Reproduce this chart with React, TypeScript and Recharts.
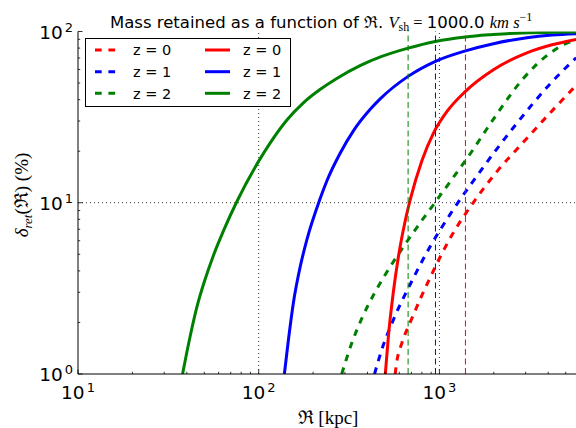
import React from 'react'
import { LineChart, Line, XAxis, YAxis, ReferenceLine } from 'recharts'

// R [kpc] vs retained mass delta_ret [%]
const DASHED_Z0: [number, number][] = [
  [569, 1.0], [581, 1.18], [619, 1.51], [689, 2.0], [887, 3.64], [1122, 5.96], [1578, 10.4],
  [2080, 15.2], [2917, 22.6], [4276, 35.1], [5715, 48.5],
]
const DASHED_Z1: [number, number][] = [
  [437.5, 1.0], [480, 1.39], [556, 2.07], [703, 3.48], [887, 5.53], [1146, 8.55], [1663, 15.0],
  [2570, 27.5], [4188, 50.7], [5715, 70.3],
]
const DASHED_Z2: [number, number][] = [
  [288, 1.0], [327, 1.51], [372, 2.11], [436, 2.95], [525, 4.11], [631, 5.52], [794, 7.8],
  [944, 10.0], [1172, 13.7], [1419, 18.1], [2000, 31.0], [2904, 53.0], [4102, 74.8],
  [4898, 84.0], [5715, 89.3],
]
const SOLID_Z0: [number, number][] = [
  [502, 1.0], [522, 1.66], [556, 3.01], [593, 4.84], [646, 7.8], [689, 10.4], [800, 17.6],
  [927, 25.5], [1099, 34.0], [1393, 44.7], [1991, 59.8], [3048, 75.0], [4198, 83.6], [5715, 89.9],
]
const SOLID_Z1: [number, number][] = [
  [138.7, 1.0], [146, 1.58], [155.6, 2.61], [169.4, 4.2], [184.5, 6.05], [218.3, 10.5],
  [238.2, 13.4], [281.8, 19.4], [334.2, 26.3], [413, 35.0], [470, 40.4], [671, 54.7],
  [951, 67.0], [1393, 77.1], [1991, 84.9], [3048, 92.0], [4198, 95.3], [5715, 97.0],
]
const SOLID_Z2: [number, number][] = [
  [37.9, 1.0], [41.7, 1.65], [45.4, 2.44], [50.5, 3.57], [56.1, 4.91], [63.7, 6.82],
  [75.5, 10.1], [100, 17.5], [115.6, 22.3], [142.9, 30.3], [176.6, 38.3], [218.3, 45.8],
  [270.4, 53.2], [363.9, 63.2], [479.7, 71.5], [671.4, 80.0], [950.6, 87.5], [1393, 92.9],
  [1901, 95.7], [2460, 97.5], [5715, 99.3],
]

// vertical dashed markers (z = 2, 1, 0)
const MARK_R = [671, 951, 1393]
const GRID_X = [100, 1000]
const GRID_Y = [10]

const X_TICKS = [10, 20, 30, 40, 50, 60, 70, 80, 90, 100, 200, 300, 400, 500, 600, 700, 800, 900,
  1000, 2000, 3000, 4000, 5000]
const Y_TICKS = [1, 2, 3, 4, 5, 6, 7, 8, 9, 10, 20, 30, 40, 50, 60, 70, 80, 90, 100]

const RED = '#ff0000'
const BLUE = '#0000ff'
const GREEN = '#008000'
const Z_COLORS = [RED, BLUE, GREEN]
const SANS = "'DejaVu Sans', sans-serif"
const SERIF = "'Liberation Serif', 'DejaVu Serif', serif"
const DASH = '6.7 6.7'

const toPts = (arr: [number, number][]) => arr.map(([x, y]) => ({ x, y }))

const SERIES = [
  { key: 'd0', data: DASHED_Z0, color: RED, dashed: true },
  { key: 'd1', data: DASHED_Z1, color: BLUE, dashed: true },
  { key: 'd2', data: DASHED_Z2, color: GREEN, dashed: true },
  { key: 's0', data: SOLID_Z0, color: RED, dashed: false },
  { key: 's1', data: SOLID_Z1, color: BLUE, dashed: false },
  { key: 's2', data: SOLID_Z2, color: GREEN, dashed: false },
]

const isMajor = (v: number) => Math.abs(Math.log10(v) - Math.round(Math.log10(v))) < 1e-6

const PowLabel = ({ v }: { v: number }) => (
  <>
    10<tspan dx={2} dy={-7} fontSize={13}>{Math.round(Math.log10(v))}</tspan>
  </>
)

const BottomTick = ({ x, y, payload }: any) => {
  const major = isMajor(payload.value)
  return (
    <g>
      <line x1={x} x2={x} y1={y} y2={y - (major ? 4.5 : 2.2)} stroke="#000" strokeWidth={0.8} />
      {major && (
        <text x={x} y={y + 24.6} textAnchor="middle" fontFamily={SANS} fontSize={18.5} fill="#000">
          <PowLabel v={payload.value} />
        </text>
      )}
    </g>
  )
}

const TopTick = ({ x, y, payload }: any) => {
  const major = isMajor(payload.value)
  return <line x1={x} x2={x} y1={y} y2={y + (major ? 4.5 : 2.2)} stroke="#000" strokeWidth={0.8} />
}

const LeftTick = ({ x, y, payload }: any) => {
  const major = isMajor(payload.value)
  return (
    <g>
      <line x1={x} x2={x + (major ? 4.5 : 2.2)} y1={y} y2={y} stroke="#000" strokeWidth={0.8} />
      {major && (
        <text x={x - 5} y={y + 7} textAnchor="end" fontFamily={SANS} fontSize={18.5} fill="#000">
          <PowLabel v={payload.value} />
        </text>
      )}
    </g>
  )
}

const LEGEND_ROWS = [50, 71.7, 93.3]

function Overlay() {
  return (
    <svg width={576} height={428} style={{ position: 'absolute', left: 0, top: 0, pointerEvents: 'none' }}>
      <text x={110} y={27.5} fontFamily={SANS} fontSize={16.5} fill="#000">
        {'Mass retained as a function of '}
        <tspan fontFamily={SERIF}>ℜ</tspan>
        {'. '}
        <tspan fontFamily={SERIF} fontStyle="italic">V</tspan>
        <tspan fontFamily={SERIF} fontSize={12} dy={3}>sh</tspan>
        <tspan fontFamily={SERIF} dy={-3}>{' = '}</tspan>
        {' 1000.0 '}
        <tspan fontFamily={SERIF} fontStyle="italic">{'km s'}</tspan>
        <tspan fontFamily={SERIF} fontSize={12} dy={-7}>−1</tspan>
      </text>

      <text transform="translate(28,195) rotate(-90)" textAnchor="middle" fontFamily={SERIF} fontSize={19} fill="#000">
        <tspan fontStyle="italic">δ</tspan>
        <tspan fontStyle="italic" fontSize={13} dy={4}>ret</tspan>
        <tspan dy={-4}>(ℜ) (%)</tspan>
      </text>

      <text x={328} y={424} textAnchor="middle" fontFamily={SERIF} fontSize={19} fill="#000">
        ℜ [kpc]
      </text>

      <rect x={85.5} y={38.5} width={205} height={68} fill="#fff" stroke="#000" strokeWidth={1} />
      {LEGEND_ROWS.map((ry, i) => (
        <g key={ry}>
          <line x1={95} x2={120} y1={ry} y2={ry} stroke={Z_COLORS[i]} strokeWidth={3} strokeDasharray={DASH} />
          <text x={133} y={ry + 5.3} fontFamily={SANS} fontSize={14.5} fill="#000">{`z = ${i}`}</text>
          <line x1={205} x2={230} y1={ry} y2={ry} stroke={Z_COLORS[i]} strokeWidth={3} />
          <text x={243} y={ry + 5.3} fontFamily={SANS} fontSize={14.5} fill="#000">{`z = ${i}`}</text>
        </g>
      ))}
    </svg>
  )
}

export default function App() {
  return (
    <div style={{ position: 'absolute', left: 0, top: 0, width: 576, height: 428, background: '#fff' }}>
      <LineChart width={576} height={428} margin={{ top: 31.5, right: 0, bottom: 0, left: 0 }}>
        <XAxis
          dataKey="x"
          type="number"
          scale="log"
          domain={[10, 5700]}
          allowDataOverflow
          ticks={X_TICKS}
          interval={0}
          tick={<BottomTick />}
          tickLine={false}
          tickSize={0}
          tickMargin={0}
          height={54}
          axisLine={{ stroke: '#000', strokeWidth: 1 }}
        />
        <XAxis
          xAxisId="top"
          orientation="top"
          dataKey="x"
          type="number"
          scale="log"
          domain={[10, 5700]}
          allowDataOverflow
          ticks={X_TICKS}
          interval={0}
          tick={<TopTick />}
          tickLine={false}
          tickSize={0}
          tickMargin={0}
          height={0}
          axisLine={{ stroke: '#000', strokeWidth: 1 }}
        />
        <YAxis
          dataKey="y"
          type="number"
          scale="log"
          domain={[1, 100]}
          allowDataOverflow
          ticks={Y_TICKS}
          interval={0}
          tick={<LeftTick />}
          tickLine={false}
          tickSize={0}
          tickMargin={0}
          width={78}
          axisLine={{ stroke: '#000', strokeWidth: 1 }}
        />
        {GRID_X.map((v) => (
          <ReferenceLine key={`gx${v}`} x={v} stroke="#000" strokeWidth={0.8} strokeDasharray="1 3" />
        ))}
        {GRID_Y.map((v) => (
          <ReferenceLine key={`gy${v}`} y={v} stroke="#000" strokeWidth={0.8} strokeDasharray="1 3" />
        ))}
        {SERIES.map((s) => (
          <Line
            key={s.key}
            data={toPts(s.data)}
            dataKey="y"
            type="monotone"
            stroke={s.color}
            strokeWidth={3}
            strokeDasharray={s.dashed ? DASH : undefined}
            dot={false}
            activeDot={false}
            isAnimationActive={false}
          />
        ))}
        {MARK_R.map((r, i) => (
          <ReferenceLine key={`m${r}`} x={r} stroke={Z_COLORS[2 - i]} strokeWidth={1} strokeDasharray="6 3.5" />
        ))}
      </LineChart>
      <Overlay />
    </div>
  )
}
